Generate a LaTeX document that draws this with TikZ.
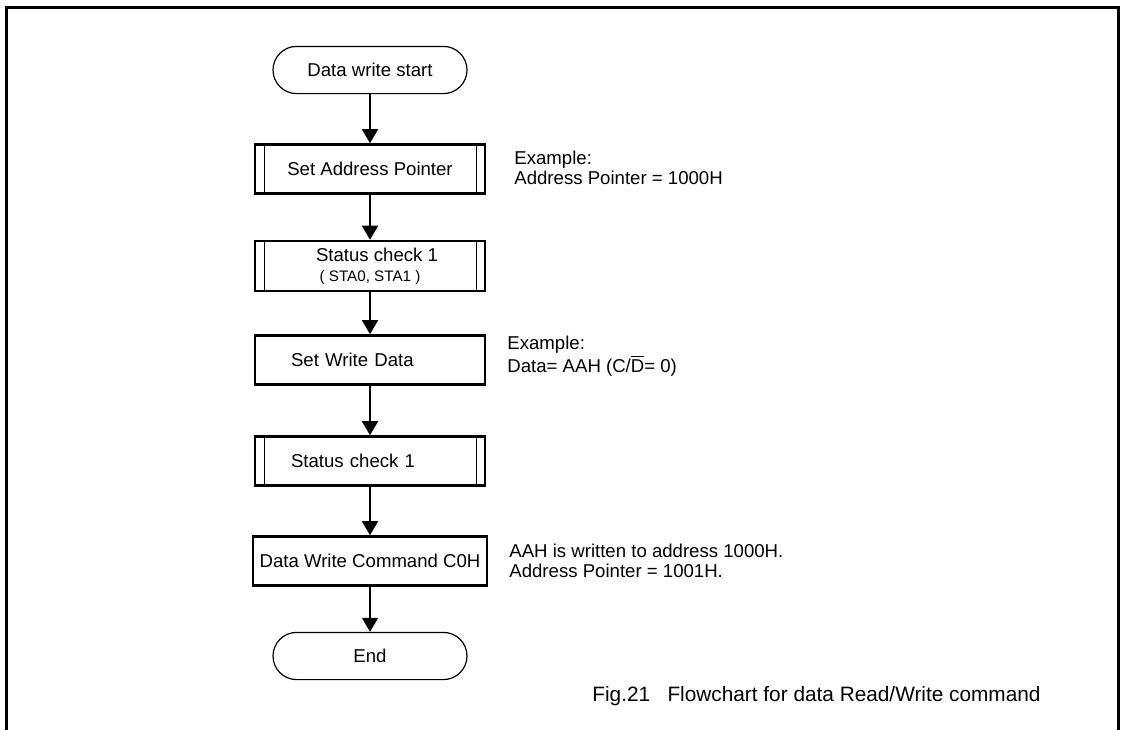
\documentclass[tikz,border=0pt]{standalone}
\usepackage{fontspec}
\setmainfont{Liberation Sans}
\usepackage{tikz}
\usetikzlibrary{arrows.meta}

\newcommand{\ovbar}[1]{$\overline{\hbox{#1}}$}

\tikzset{
	termbox/.style={shape=rectangle, draw=black, line width=0.6pt, rounded corners=11.8pt, minimum width=97pt, minimum height=23.6pt},
	procbox/.style={shape=rectangle, draw=black, line width=1.3pt, minimum width=115pt, minimum height=24.5pt},
	subbox/.style={procbox, path picture={
		\draw[line width=0.5pt] ([xshift=4.5pt]path picture bounding box.north west) -- ([xshift=4.5pt]path picture bounding box.south west);
		\draw[line width=0.5pt] ([xshift=-4.5pt]path picture bounding box.north east) -- ([xshift=-4.5pt]path picture bounding box.south east);}},
	lefttext/.style={text width=79pt, align=left},
	note/.style={anchor=west, align=left, inner sep=0pt, font=\fontsize{9.3pt}{10pt}\selectfont},
	flow/.style={-{Triangle[length=7pt,width=8pt]}, line width=0.9pt}
}

\begin{document}
\begin{tikzpicture}[x=0.5pt, y=-0.5pt, font=\fontsize{9.3pt}{11pt}\selectfont]

	\useasboundingbox (0,0) rectangle (1125,729);
	\draw[line width=1.5pt] (6,735) -- (6,7) -- (1118,7) -- (1118,735);

	\node[termbox] (start) at (370, 70)     {Data write start};
	\node[subbox] (setaddr) at (370, 169)   {Set Address Pointer};
	\node[subbox, align=center] (stat1) at (370, 266)  {\hspace{7pt}Status check 1\\[-1pt]{\fontsize{7.6pt}{9pt}\selectfont ( STA0, STA1 )}};
	\node[procbox, lefttext] (wdata) at (370, 360)   {Set Write Data};
	\node[subbox, lefttext] (stat2) at (370, 461)    {Status check 1};
	\node[procbox] (wcmd) at (370, 561)     {Data Write Command C0H};
	\node[termbox] (stop) at (370, 656)     {End};

	\node[note] (note1) at (514, 168)  {Example:\\Address Pointer = 1000H};
	\node[note] (note2) at (507, 356)  {Example:\\Data= AAH (C/\ovbar{D}= 0)};
	\node[note] (note3) at (509, 561)  {AAH is written to address 1000H.\\Address Pointer = 1001H.};
	\node[note, font=\fontsize{10.4pt}{12pt}\selectfont] (caption) at (592, 696)  {Fig.21\ \ \ Flowchart for data Read/Write command};

	\path[flow] (start) edge (setaddr);
	\path[flow] (setaddr) edge (stat1);
	\path[flow] (stat1) edge (wdata);
	\path[flow] (wdata) edge (stat2);
	\path[flow] (stat2) edge (wcmd);
	\path[flow] (wcmd) edge (stop);
\end{tikzpicture}
\end{document}
